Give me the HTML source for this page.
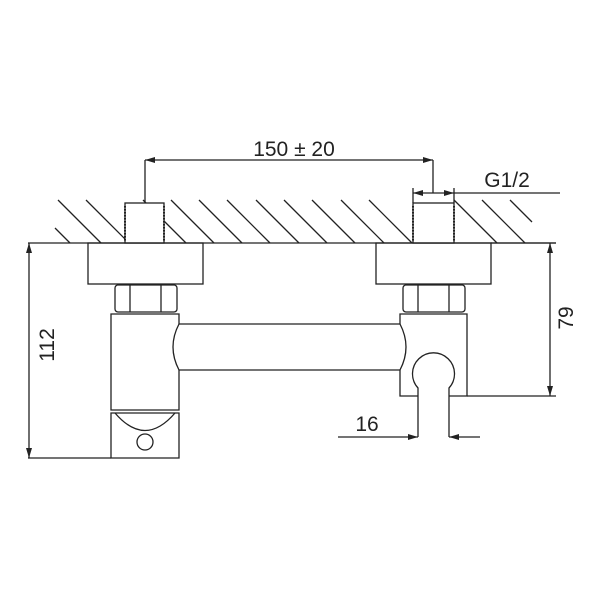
<!DOCTYPE html>
<html><head><style>body{margin:0;background:#fff}svg{display:block}</style></head><body>
<svg width="600" height="600" viewBox="0 0 600 600" xmlns="http://www.w3.org/2000/svg" font-family="Liberation Sans, sans-serif">
<defs>
<marker id="a" viewBox="0 0 10 6" refX="10" refY="3" markerWidth="10" markerHeight="6" orient="auto-start-reverse" markerUnits="userSpaceOnUse"><path d="M0,0L10,3L0,6z" fill="#222"/></marker>
</defs>
<g stroke="#222" stroke-width="1.3" fill="none">
<!-- hatching -->
<path d="M58,200L101,243M86,200L129,243M171,200L214,243M199,200L242,243M227,200L270,243M256,200L299,243M284,200L327,243M312,200L355,243M341,200L384,243M369,200L412,243M454,200L497,243M482,200L525,243M510,200L532,222M55,228L70,243M143,200L186,243"/>
<!-- wall -->
<line x1="28" y1="243" x2="556" y2="243"/>
<!-- studs -->
<rect x="125" y="203" width="39" height="40" fill="#fff"/>
<rect x="413" y="203" width="41" height="40" fill="#fff"/>
<path d="M125,206v36M164,206v36M413,206v36M454,206v36" stroke-dasharray="1.5 1.5" stroke-width="2"/>
<!-- flanges -->
<rect x="88" y="243" width="115" height="41"/>
<rect x="376" y="243" width="115" height="41"/>
<!-- nuts -->
<rect x="115" y="285" width="62" height="27" rx="3"/>
<path d="M130,285v27M161,285v27"/>
<rect x="403" y="285" width="62" height="27" rx="3"/>
<path d="M418,285v27M449,285v27"/>
<!-- left body -->
<path d="M179,324V314H111V410H179V370"/>
<path d="M111,413h68v45h-68z"/>
<path d="M115,413q30,35 60,0"/>
<circle cx="145" cy="442" r="8"/>
<!-- pipe -->
<path d="M179,324H400M179,370H400"/>
<path d="M179,324q-12,23 0,46"/>
<path d="M400,324q12,23 0,46"/>
<!-- right body -->
<path d="M400,324V314H467V396H449M418,396H400V370"/>
<path d="M418,396v-8a21,21 0 1,1 31,0v8"/>
<path d="M418,396V437M449,396V437"/>
<!-- dims -->
<path d="M145,203V160M433,193V160"/>
<line x1="145" y1="160" x2="433" y2="160" marker-start="url(#a)" marker-end="url(#a)"/>
<line x1="413" y1="193" x2="454" y2="193" marker-start="url(#a)" marker-end="url(#a)"/>
<path d="M454,193H560M413,203V188M454,203V188"/>
<path d="M491,243H556M467,396H556"/>
<line x1="550" y1="243" x2="550" y2="396" marker-start="url(#a)" marker-end="url(#a)"/>
<path d="M28,458H111"/>
<line x1="29" y1="243" x2="29" y2="458" marker-start="url(#a)" marker-end="url(#a)"/>
<line x1="338" y1="437" x2="418" y2="437" marker-end="url(#a)"/>
<line x1="480" y1="437" x2="449" y2="437" marker-end="url(#a)"/>
</g>
<g fill="#222" font-size="21">
<text x="294" y="156" text-anchor="middle">150 ± 20</text>
<text x="507" y="187" text-anchor="middle">G1/2</text>
<text x="367" y="431" text-anchor="middle">16</text>
<text transform="translate(573,318) rotate(-90)" text-anchor="middle">79</text>
<text transform="translate(54,345) rotate(-90)" text-anchor="middle">112</text>
</g>
</svg>
</body></html>
